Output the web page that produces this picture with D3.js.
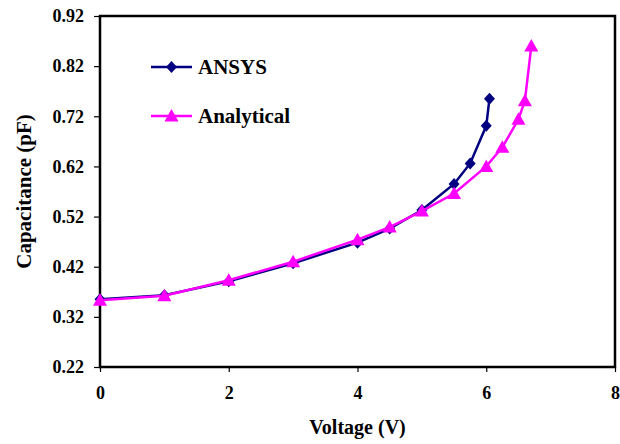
<!DOCTYPE html>
<html>
<head>
<meta charset="utf-8">
<script src="https://cdn.jsdelivr.net/npm/d3@7"></script>
<style>
  body { margin: 0; background: #fff; }
  svg text { font-family: "Liberation Serif", "DejaVu Serif", serif; font-weight: bold; }
</style>
</head>
<body>
<div id="chart"></div>
<script>
const ansysV = [0, 1, 2, 3, 4, 4.5, 5, 5.5, 5.75, 6, 6.05];
const ansysC = [0.355, 0.363, 0.391, 0.427, 0.468, 0.496, 0.533, 0.585, 0.626, 0.701, 0.755];
const analyticV = [0, 1, 2, 3, 4, 4.5, 5, 5.5, 6, 6.25, 6.5, 6.6, 6.7];
const analyticC = [0.353, 0.362, 0.393, 0.430, 0.474, 0.499, 0.531, 0.566, 0.620, 0.658, 0.714, 0.751, 0.860];
const xTicks = [0, 2, 4, 6, 8];
const yTicks = [0.22, 0.32, 0.42, 0.52, 0.62, 0.72, 0.82, 0.92];

const width = 620, height = 444;
const margin = { top: 16, right: 5, bottom: 77, left: 100 };

const svg = d3.select('#chart')
  .append('svg')
  .attr('width', width)
  .attr('height', height);

const x = d3.scaleLinear().domain([0, 8]).range([margin.left, width - margin.right]);
const y = d3.scaleLinear().domain([0.22, 0.92]).range([height - margin.bottom, margin.top]);

// axes: ticks and labels only, the frame is a rect
const xAxis = svg.append('g')
  .attr('transform', `translate(0,${y(0.22)})`)
  .call(d3.axisBottom(x).tickValues(xTicks).tickFormat(d3.format('d')).tickSizeOuter(0).tickSize(5).tickPadding(14));
xAxis.select('.domain').remove();
xAxis.selectAll('text').style('font-size', '18px').attr('fill', '#000');
xAxis.selectAll('line').attr('stroke', '#000').attr('stroke-width', 1.2);

const yAxis = svg.append('g')
  .attr('transform', `translate(${x(0)},0)`)
  .call(d3.axisLeft(y).tickValues(yTicks).tickFormat(d3.format('.2f')).tickSizeOuter(0).tickSize(6).tickPadding(10));
yAxis.select('.domain').remove();
yAxis.selectAll('text').style('font-size', '18px').attr('fill', '#000');
yAxis.selectAll('line').attr('stroke', '#000').attr('stroke-width', 1.2);

svg.append('rect')
  .attr('x', x(0))
  .attr('y', y(0.92))
  .attr('width', x(8) - x(0))
  .attr('height', y(0.22) - y(0.92))
  .attr('fill', 'none')
  .attr('stroke', '#000')
  .attr('stroke-width', 2.5);

// axis titles
svg.append('text')
  .attr('x', (x(0) + x(8)) / 2)
  .attr('y', 434)
  .attr('text-anchor', 'middle')
  .style('font-size', '20px')
  .text('Voltage (V)');

svg.append('text')
  .attr('transform', `translate(31,${(y(0.22) + y(0.92)) / 2}) rotate(-90)`)
  .attr('text-anchor', 'middle')
  .style('font-size', '21px')
  .text('Capacitance (pF)');

const line = d3.line().x(d => x(d[0])).y(d => y(d[1]));

const ansys = ansysV.map((v, i) => [v, ansysC[i]]);
const analytic = analyticV.map((v, i) => [v, analyticC[i]]);

// marker shapes
const diamond = 'M0,-6L5.5,0L0,6L-5.5,0Z';
const triangle = 'M0,-7L7,5.5L-7,5.5Z';

svg.append('path')
  .datum(ansys)
  .attr('d', line)
  .attr('fill', 'none')
  .attr('stroke', '#000080')
  .attr('stroke-width', 2.5);

svg.selectAll('.ansys-pt')
  .data(ansys)
  .enter()
  .append('path')
  .attr('class', 'ansys-pt')
  .attr('transform', d => `translate(${x(d[0])},${y(d[1])})`)
  .attr('d', diamond)
  .attr('fill', '#000080');

svg.append('path')
  .datum(analytic)
  .attr('d', line)
  .attr('fill', 'none')
  .attr('stroke', '#ff00ff')
  .attr('stroke-width', 2.5);

svg.selectAll('.analytic-pt')
  .data(analytic)
  .enter()
  .append('path')
  .attr('class', 'analytic-pt')
  .attr('transform', d => `translate(${x(d[0])},${y(d[1])})`)
  .attr('d', triangle)
  .attr('fill', '#ff00ff');

// legend
const legend = [
  { name: 'ANSYS', color: '#000080', sym: diamond, ly: 67 },
  { name: 'Analytical', color: '#ff00ff', sym: triangle, ly: 116 }
];
legend.forEach(d => {
  svg.append('line')
    .attr('x1', 151).attr('x2', 192)
    .attr('y1', d.ly).attr('y2', d.ly)
    .attr('stroke', d.color)
    .attr('stroke-width', 2.5);
  svg.append('path')
    .attr('transform', `translate(171.5,${d.ly})`)
    .attr('d', d.sym)
    .attr('fill', d.color);
  svg.append('text')
    .attr('x', 198)
    .attr('y', d.ly)
    .attr('dy', '0.35em')
    .style('font-size', '21px')
    .text(d.name);
});
</script>
</body>
</html>
